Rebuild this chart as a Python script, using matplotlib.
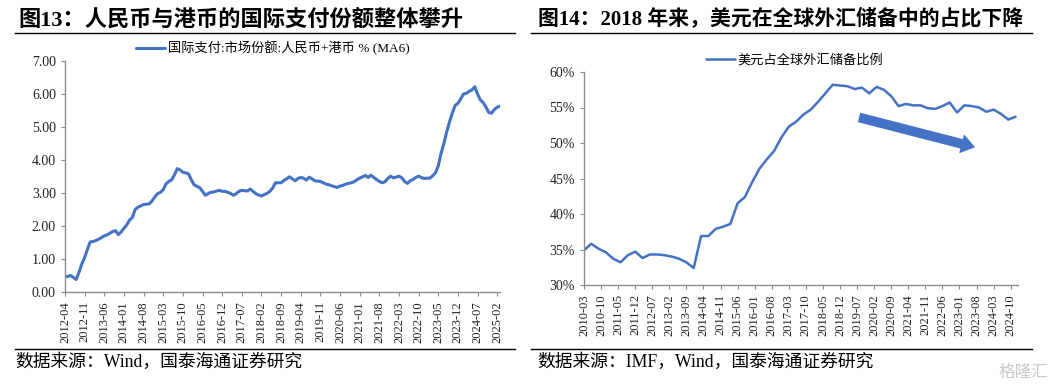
"""Two-panel figure: RMB+HKD payment share and USD share of global FX reserves."""

import matplotlib
matplotlib.use("Agg")
import matplotlib.pyplot as plt
import numpy as np
import pandas as pd
from matplotlib.lines import Line2D
from matplotlib.patches import FancyArrowPatch
from matplotlib.ticker import FuncFormatter

FONT = ["Liberation Serif", "Noto Sans CJK SC"]
BLUE = "#4472C4"
GREY = "#8c8c8c"

# Fig 13: monthly, starting 2012-04 (MA6, %)
pay_start = "2012-04"
pay_share = [
    0.47, 0.47, 0.50, 0.44, 0.38, 0.60, 0.85, 1.05, 1.30, 1.52, 1.53, 1.56,
    1.60, 1.65, 1.70, 1.73, 1.78, 1.83, 1.86, 1.74, 1.82, 1.93, 2.03, 2.18,
    2.26, 2.50, 2.57, 2.61, 2.65, 2.66, 2.67, 2.76, 2.88, 2.98, 3.02, 3.10,
    3.28, 3.35, 3.40, 3.55, 3.74, 3.70, 3.63, 3.61, 3.58, 3.40, 3.25, 3.20,
    3.16, 3.05, 2.93, 2.98, 3.02, 3.03, 3.06, 3.08, 3.05, 3.05, 3.02, 2.99,
    2.93, 2.98, 3.05, 3.08, 3.07, 3.06, 3.12, 3.05, 2.98, 2.94, 2.91, 2.95,
    2.99, 3.05, 3.15, 3.31, 3.31, 3.31, 3.38, 3.43, 3.49, 3.43, 3.37, 3.44,
    3.47, 3.45, 3.39, 3.48, 3.43, 3.37, 3.36, 3.35, 3.31, 3.27, 3.25, 3.22,
    3.19, 3.17, 3.21, 3.23, 3.27, 3.29, 3.31, 3.34, 3.40, 3.45, 3.49, 3.53,
    3.47, 3.54, 3.47, 3.41, 3.35, 3.31, 3.34, 3.44, 3.51, 3.46, 3.48, 3.51,
    3.46, 3.35, 3.29, 3.37, 3.41, 3.47, 3.51, 3.47, 3.44, 3.45, 3.45, 3.52,
    3.61, 3.82, 4.20, 4.50, 4.85, 5.15, 5.42, 5.65, 5.72, 5.85, 6.00, 6.02,
    6.08, 6.12, 6.22, 6.00, 5.82, 5.74, 5.60, 5.44, 5.42, 5.53, 5.60, 5.63,
]

# Fig 14: quarterly, 2010-03 .. 2024-12 (%)
usd_start = "2010-03"
usd_share = [
    34.9, 35.8, 35.1, 34.6, 33.7, 33.2, 34.2, 34.7, 33.8, 34.3, 34.3, 34.2,
    34.0, 33.7, 33.2, 32.4, 36.9, 36.9, 37.9, 38.2, 38.6, 41.5, 42.4, 44.5,
    46.4, 47.7, 48.9, 50.8, 52.3, 53.0, 54.0, 54.7, 55.8, 57.0, 58.2, 58.1,
    58.0, 57.6, 57.8, 57.0, 57.9, 57.5, 56.6, 55.2, 55.5, 55.3, 55.3, 54.9,
    54.8, 55.2, 55.7, 54.3, 55.3, 55.2, 55.0, 54.4, 54.7, 54.1, 53.3, 53.7,
]

pay_label = "国际支付:市场份额:人民币+港币 % (MA6)"
usd_label = "美元占全球外汇储备比例"
title_left = "图13：人民币与港币的国际支付份额整体攀升"
title_right = "图14：2018 年来，美元在全球外汇储备中的占比下降"
source_left = "数据来源：Wind，国泰海通证券研究"
source_right = "数据来源：IMF，Wind，国泰海通证券研究"


def style_axes(ax):
    for side in ("top", "right"):
        ax.spines[side].set_visible(False)
    for side in ("left", "bottom"):
        ax.spines[side].set_color(GREY)
        ax.spines[side].set_linewidth(1.0)
    ax.tick_params(axis="both", colors=GREY, length=3, width=0.8, direction="out")
    for lab in ax.get_xticklabels():
        lab.set_family(FONT)
        lab.set_fontsize(9)
        lab.set_rotation(90)
        lab.set_color("#222222")
    for lab in ax.get_yticklabels():
        lab.set_family(FONT)
        lab.set_fontsize(10)
        lab.set_color("#222222")


def main():
    fig = plt.figure(figsize=(10.56, 3.88), dpi=100)

    # left panel
    ax1 = fig.add_axes([65 / 1056, 1 - 292 / 388, 435 / 1056, 231 / 388])
    x1 = np.arange(len(pay_share))
    months1 = pd.period_range(pay_start, periods=len(pay_share) + 6, freq="M")
    ax1.plot(x1, pay_share, color=BLUE, lw=2.2, label=pay_label, solid_capstyle="round")
    ax1.set_xlim(0, len(pay_share) - 1)
    ax1.set_ylim(0, 7)
    ax1.set_yticks(np.arange(0, 7.01, 1))
    ax1.yaxis.set_major_formatter(FuncFormatter(lambda v, p: f"{v:.2f}"))
    t1 = np.arange(0, len(pay_share), 7)
    ax1.set_xticks(t1, [months1[i].strftime("%Y-%m") for i in t1])
    style_axes(ax1)
    ax1.legend(loc="center", bbox_to_anchor=(0.478, 1.056), frameon=False,
               prop={"family": FONT, "size": 9.5}, handlelength=2.2, handletextpad=0.2)

    # right panel
    ax2 = fig.add_axes([584 / 1056, 1 - 285 / 388, 434 / 1056, 213 / 388])
    x2 = np.arange(len(usd_share)) * 3
    months2 = pd.period_range(usd_start, periods=x2[-1] + 1, freq="M")
    ax2.plot(x2, usd_share, color=BLUE, lw=1.8, label=usd_label,
             solid_capstyle="round", solid_joinstyle="round")
    ax2.set_xlim(0, x2[-1] + 1)
    ax2.set_ylim(30, 60)
    ax2.set_yticks(np.arange(30, 60.1, 5))
    ax2.yaxis.set_major_formatter(FuncFormatter(lambda v, p: f"{v:.0f}%"))
    t2 = np.arange(0, x2[-1] + 1, 7)
    ax2.set_xticks(t2, [months2[i].strftime("%Y-%m") for i in t2])
    style_axes(ax2)
    ax2.legend(loc="center", bbox_to_anchor=(0.486, 1.056), frameon=False,
               prop={"family": FONT, "size": 9.5}, handlelength=2.2, handletextpad=0.2)

    # trend arrow
    arrow = FancyArrowPatch((111.7, 53.7), (161.5, 49.3),
                            arrowstyle="simple,tail_width=7,head_width=14,head_length=10",
                            color=BLUE, lw=0, mutation_scale=1)
    ax2.add_patch(arrow)

    # titles, rules and sources
    fig.text(18 / 1056, 1 - 20 / 388, title_left, family=FONT, weight="bold",
             fontsize=16, va="center", ha="left")
    fig.text(538 / 1056, 1 - 20 / 388, title_right, family=FONT, weight="bold",
             fontsize=15, va="center", ha="left")
    for x0, x1_ in ((15, 515), (531, 1032)):
        for yy in (33, 349):
            fig.add_artist(Line2D([x0 / 1056, x1_ / 1056], [1 - yy / 388] * 2,
                                  color="black", lw=1.0))
    fig.text(15 / 1056, 1 - 362 / 388, source_left, family=FONT, fontsize=12.8,
             va="center", ha="left")
    fig.text(537 / 1056, 1 - 362 / 388, source_right, family=FONT, fontsize=12.8,
             va="center", ha="left")
    fig.text(1048 / 1056, 1 - 373 / 388, "格隆汇", family=FONT, fontsize=12,
             color="#c8c8c8", va="center", ha="right")

    fig.savefig("out.png", dpi=100)
    plt.close(fig)


if __name__ == "__main__":
    main()
